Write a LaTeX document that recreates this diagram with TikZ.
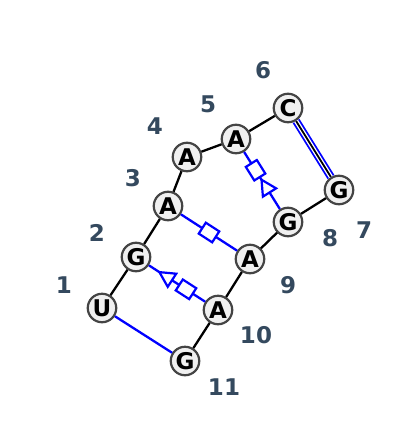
\documentclass[tikz,border=0pt]{standalone}
\usepackage{fontspec}
\setmainfont{DejaVu Sans}
\usetikzlibrary{shapes.geometric}
\definecolor{ringgray}{RGB}{68,68,68}
\definecolor{nucfill}{RGB}{240,240,240}
\definecolor{numcol}{RGB}{52,73,94}
\tikzstyle{nuc}=[circle, draw=ringgray, fill=nucfill, line width=2.2pt, inner sep=0pt, minimum size=28.5pt, font=\fontsize{23}{23}\selectfont\bfseries]
\tikzstyle{num}=[text=numcol, inner sep=0pt, font=\fontsize{23}{23}\selectfont\bfseries]
\tikzstyle{backbone}=[black, line width=2.3pt]
\tikzstyle{pair}=[blue, line width=2.3pt]
\tikzstyle{hoog}=[rectangle, draw=blue, fill=white, line width=2.2pt, inner sep=0pt, minimum width=16pt, minimum height=13pt, sloped, allow upside down]
\tikzstyle{sugar}=[isosceles triangle, isosceles triangle apex angle=55, shape border rotate=180, draw=blue, fill=white, line width=2.2pt, inner sep=0pt, minimum size=15pt, sloped, allow upside down]
\newcommand{\nuc}{\node[nuc]}

\begin{document}
\begin{tikzpicture}[x=1pt, y=-1pt]
\useasboundingbox (0,0) rectangle (400,426);
% nucleotides
\nuc (n1)  at (102,308) {U};
\nuc (n2)  at (136,257) {G};
\nuc (n3)  at (168,206) {A};
\nuc (n4)  at (187,157) {A};
\nuc (n5)  at (236,139) {A};
\nuc (n6)  at (288,108) {C};
\nuc (n7)  at (339,190) {G};
\nuc (n8)  at (288,222) {G};
\nuc (n9)  at (250,259) {A};
\nuc (n10) at (218,310) {A};
\nuc (n11) at (185,361) {G};
% numbering
\node[num] (l1)  at (64,285)  {1};
\node[num] (l2)  at (97,233)  {2};
\node[num] (l3)  at (133,178) {3};
\node[num] (l4)  at (155,126) {4};
\node[num] (l5)  at (208,104) {5};
\node[num] (l6)  at (263,70)  {6};
\node[num] (l7)  at (364,230) {7};
\node[num] (l8)  at (330,238) {8};
\node[num] (l9)  at (288,285) {9};
\node[num] (l10) at (256,335) {10};
\node[num] (l11) at (224,387) {11};
% backbone
\draw[backbone] (n1) -- (n2) -- (n3) -- (n4) -- (n5) -- (n6);
\draw[backbone] (n7) -- (n8) -- (n9) -- (n10) -- (n11);
% base pairs
\draw[blue, line width=8pt] (n6) -- (n7);
\draw[white, line width=4.4pt] (n6) -- (n7);
\draw[black, line width=1.8pt] (n6) -- (n7);
\draw[pair] (n5) -- node[hoog, pos=.32] {} node[sugar, pos=.64] {} (n8);
\draw[pair] (n3) -- node[hoog, pos=.5] {} (n9);
\draw[pair] (n2) -- node[sugar, pos=.34] {} node[hoog, pos=.66] {} (n10);
\draw[pair] (n1) -- (n11);
\end{tikzpicture}
\end{document}
